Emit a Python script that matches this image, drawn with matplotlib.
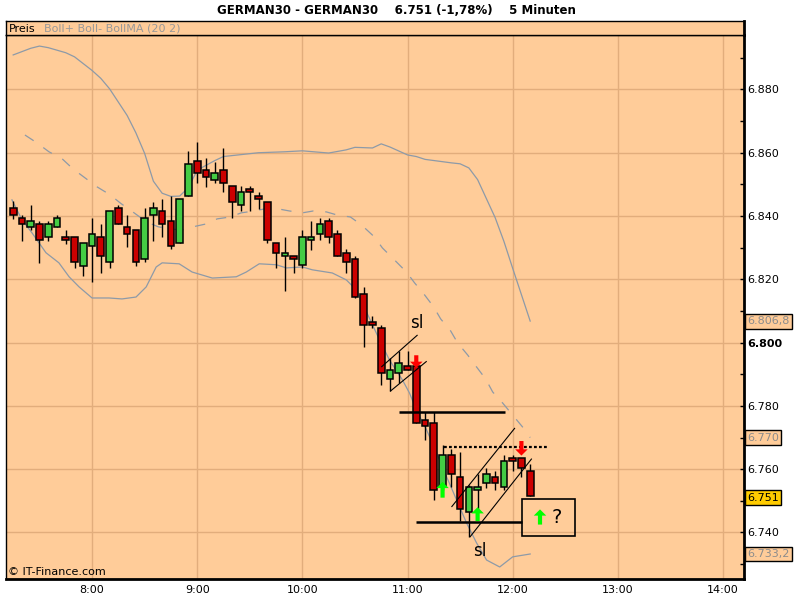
import numpy as np
import matplotlib
matplotlib.use("Agg")
import matplotlib.pyplot as plt
import matplotlib.transforms as mtransforms
from matplotlib.patches import Rectangle

# candles: 5 minute bars starting at 7:15 (minutes after midnight)
first_bar = 435
bar_step = 5
opens = [6842.5, 6839.3, 6836.5, 6837.4, 6833.3, 6836.5, 6833.3, 6833.3, 6824.3, 6830.5,
         6833.3, 6825.4, 6842.5, 6836.5, 6835.5, 6826.4, 6840.2, 6841.5, 6838.5, 6831.4,
         6846.3, 6857.3, 6854.5, 6851.3, 6854.5, 6849.4, 6843.4, 6848.5, 6846.3, 6844.4,
         6831.4, 6827.3, 6827.3, 6824.5, 6832.4, 6834.2, 6838.5, 6834.2, 6828.2, 6826.4,
         6815.4, 6806.4, 6804.5, 6788.4, 6790.3, 6792.5, 6792.7, 6775.5, 6774.5, 6754.5,
         6764.4, 6757.5, 6746.4, 6753.5, 6755.6, 6757.5, 6754.3, 6763.5, 6763.5, 6759.4]
highs = [6844.8, 6840.3, 6843.5, 6838.5, 6838.5, 6840.3, 6835.6, 6833.3, 6831.4, 6839.4,
         6837.4, 6841.5, 6843.4, 6840.3, 6835.5, 6842.5, 6844.4, 6845.3, 6846.3, 6845.3,
         6860.5, 6863.4, 6858.3, 6857.0, 6861.5, 6849.4, 6849.4, 6849.4, 6847.6, 6844.4,
         6831.4, 6833.3, 6827.3, 6835.6, 6838.5, 6839.4, 6839.4, 6835.6, 6829.5, 6827.3,
         6817.5, 6808.3, 6805.5, 6795.1, 6797.3, 6797.3, 6792.7, 6778.0, 6778.0, 6767.6,
         6766.3, 6765.4, 6755.1, 6758.4, 6760.3, 6759.4, 6764.4, 6764.4, 6763.5, 6761.6]
lows = [6839.2, 6832.2, 6835.6, 6825.3, 6832.2, 6836.4, 6831.3, 6823.5, 6821.2, 6819.3,
        6822.1, 6823.5, 6837.4, 6830.3, 6824.3, 6825.4, 6832.2, 6833.3, 6829.5, 6831.4,
        6846.3, 6850.4, 6849.3, 6850.4, 6847.5, 6839.3, 6841.5, 6841.5, 6842.3, 6831.4,
        6823.5, 6816.4, 6822.1, 6823.5, 6829.4, 6832.4, 6831.4, 6827.3, 6822.1, 6814.0,
        6798.5, 6804.5, 6786.5, 6784.8, 6787.2, 6791.3, 6774.5, 6769.3, 6750.3, 6753.5,
        6754.5, 6743.5, 6738.7, 6747.4, 6754.2, 6753.5, 6753.5, 6759.4, 6757.5, 6751.4]
closes = [6840.2, 6837.4, 6838.4, 6832.4, 6837.4, 6839.3, 6832.4, 6825.4, 6831.4, 6834.2,
          6827.3, 6841.5, 6837.4, 6834.2, 6825.4, 6839.3, 6842.5, 6837.4, 6830.5, 6845.3,
          6856.4, 6853.5, 6852.3, 6853.6, 6850.4, 6844.4, 6847.5, 6847.5, 6845.3, 6832.4,
          6828.2, 6828.2, 6826.4, 6833.3, 6833.3, 6837.4, 6833.3, 6827.3, 6825.4, 6814.3,
          6805.5, 6805.5, 6790.3, 6791.3, 6793.5, 6791.3, 6774.5, 6773.6, 6753.5, 6764.4,
          6758.4, 6747.4, 6754.3, 6754.3, 6758.4, 6755.6, 6762.5, 6762.5, 6760.3, 6751.4]

# Bollinger bands (20, 2)
upper_t = [435, 445, 450, 455, 465, 470, 480, 485, 490, 495, 500, 505, 510, 515, 520, 525,
           530, 535, 540, 545, 550, 555, 565, 575, 590, 600, 615, 625, 630, 640, 645, 650,
           660, 665, 670, 685, 690, 695, 700, 710, 715, 720, 730]
upper_v = [6890.9, 6893.0, 6893.7, 6893.2, 6891.6, 6890.3, 6886.0, 6883.5, 6880.2, 6876.0,
           6871.8, 6866.3, 6859.8, 6851.0, 6847.2, 6846.2, 6846.3, 6849.0, 6854.5, 6856.0,
           6857.5, 6858.8, 6859.4, 6860.0, 6860.3, 6860.6, 6859.9, 6860.9, 6861.7, 6861.5,
           6862.8, 6861.8, 6859.3, 6858.8, 6857.9, 6856.8, 6856.5, 6855.2, 6851.5, 6839.5,
           6832.0, 6823.5, 6806.8]
mid_t = [441.7, 448.6, 455.4, 462.9, 469.1, 476.6, 482.9, 490.3, 496.6, 504, 510.9, 517.7,
         524.6, 531.4, 537.7, 545.1, 551.4, 558.9, 565.1, 572.6, 578.9, 585.7, 592.6, 600,
         606.3, 613.7, 620, 627.4, 633.7, 641.1, 645.7, 652.6, 659.4, 664, 669.7, 674.9,
         678.9, 684.6, 688.6, 694.3, 699.4, 704.6, 708.6, 714.3, 720, 725.7, 730]
mid_v = [6865.6, 6863.1, 6860.3, 6858.1, 6854.9, 6851.8, 6849.2, 6846.7, 6843.9, 6841.0,
         6838.2, 6836.6, 6835.9, 6835.6, 6836.6, 6837.5, 6839.1, 6839.7, 6841.0, 6841.6,
         6842.3, 6842.3, 6841.6, 6841.0, 6841.6, 6841.3, 6840.3, 6839.7, 6837.2, 6833.4,
         6829.9, 6826.1, 6822.3, 6818.9, 6815.1, 6811.3, 6807.5, 6803.7, 6799.9, 6796.1,
         6792.3, 6788.5, 6784.4, 6780.9, 6777.1, 6773.3, 6770.0]
lower_t = [434.3, 440, 445.7, 453.7, 461.1, 466.9, 472.6, 480, 489.7, 497.1, 505.1, 510.9,
           516.6, 520, 529.7, 537.1, 548.6, 562.3, 568, 575.4, 585.1, 590.9, 600, 605.7,
           617.1, 625.1, 630.9, 632.6, 644, 649.7, 657.1, 661.1, 665.1, 670.9, 676.6, 682.3,
           688, 693.7, 699.4, 705.1, 712.6, 720, 730]
lower_v = [6845.1, 6838.8, 6834.7, 6828.4, 6825.2, 6820.8, 6817.6, 6814.1, 6814.1, 6813.8,
           6814.4, 6817.6, 6823.9, 6825.2, 6824.9, 6822.3, 6820.4, 6820.8, 6822.3, 6824.9,
           6824.6, 6823.6, 6823.9, 6823.0, 6822.0, 6819.8, 6816.6, 6814.4, 6800.9, 6794.5,
           6788.2, 6784.1, 6778.7, 6772.4, 6765.1, 6757.6, 6750.3, 6743.0, 6736.7, 6731.3,
           6729.1, 6732.3, 6733.2]

# hand drawn annotations (time in minutes, price)
channel_lines = [((645.3, 6792.4), (665.5, 6802.3)), ((650.3, 6784.7), (670.7, 6794.0)),
                 ((685.3, 6748.2), (721.1, 6772.9)), ((695.8, 6738.7), (730.7, 6763.2))]
solid_levels = [(6778.2, 655.4, 715.4), (6743.4, 665.0, 725.3)]
dotted_level = (6767.1, 680.6, 740.0)
green_arrows = [(680, 6751.0, 6756.0), (700, 6743.6, 6748.0), (735.6, 6742.5, 6747.3)]
red_arrows = [(665, 6796.0, 6792.0), (725, 6768.9, 6764.3)]
sl_labels = [(665.3, 6806.1), (701.1, 6734.0)]
question_box = (725.3, 755.8, 6738.9, 6750.5)

last_labels = [("6.806,8", 6806.8, "#FFCC99", "#8C8C8C"), ("6.770", 6770.0, "#FFCC99", "#8C8C8C"),
               ("6.751", 6751.0, "#FFCC00", "black"), ("6.733,2", 6733.2, "#FFCC99", "#8C8C8C")]
hour_ticks = [8, 9, 10, 11, 12, 13, 14]
price_ticks = [6740, 6760, 6780, 6800, 6820, 6840, 6860, 6880]

peach = "#FFCC99"
grid_c = "#E2AD7C"
band_c = "#8D9AA8"
plt.rcParams["font.family"] = "DejaVu Sans"
plt.rcParams["lines.scale_dashes"] = False

fig = plt.figure(figsize=(8, 6), dpi=100)
fig.patch.set_facecolor("white")
W, H = 800, 600
ax = fig.add_axes([6 / W, 1 - 579 / H, 738 / W, 544 / H])
ax.set_facecolor(peach)
ax.set_xlim(430.9, 852.0)
ax.set_ylim(6725.3, 6897.2)

times = np.array([first_bar + bar_step * i for i in range(len(opens))])
o = np.array(opens); c = np.array(closes)
cols = np.where(c >= o, "#44CC44", "#CC0000")

ax.plot(upper_t, upper_v, color=band_c, lw=0.9, zorder=1)
ax.plot(lower_t, lower_v, color=band_c, lw=0.9, zorder=1)
ax.plot(mid_t, mid_v, color=band_c, lw=0.9, zorder=1, dashes=(7.5, 8.5))

ax.vlines(times, lows, highs, color="black", lw=1.0, zorder=2)
ax.bar(times, np.abs(c - o), bottom=np.minimum(o, c), width=3.8, color=cols,
       edgecolor="black", linewidth=1.1, zorder=3)

for (p1, p2) in channel_lines:
    ax.plot([p1[0], p2[0]], [p1[1], p2[1]], color="black", lw=0.8, zorder=4)
for lvl, t0, t1 in solid_levels:
    ax.plot([t0, t1], [lvl, lvl], color="black", lw=1.8, zorder=4, solid_capstyle="butt")
ax.plot(dotted_level[1:], [dotted_level[0]] * 2, color="black", lw=1.6, zorder=4,
        dashes=(2.0, 1.6))

def block_arrow(x, y0, y1, color):
    ax.annotate("", xy=(x, y1), xytext=(x, y0), zorder=6,
                arrowprops=dict(arrowstyle="simple,head_length=4.5,head_width=9,tail_width=3",
                                mutation_scale=1, color=color, lw=0, shrinkA=0, shrinkB=0))

for x, y0, y1 in green_arrows:
    block_arrow(x, y0, y1, "#00FF00")
for x, y0, y1 in red_arrows:
    block_arrow(x, y0, y1, "#FF0000")

bx0, bx1, by0, by1 = question_box
ax.add_patch(Rectangle((bx0, by0), bx1 - bx0, by1 - by0, facecolor="none",
                       edgecolor="black", lw=1.2, zorder=5))
ax.text(bx0 + 0.66 * (bx1 - bx0), (by0 + by1) / 2, "?", fontsize=14, ha="center",
        va="center", zorder=6)
for tx, ty in sl_labels:
    ax.text(tx, ty, "sl", fontsize=12, ha="center", va="center", zorder=6)

# grid and axes
for h in hour_ticks:
    ax.axvline(h * 60, color=grid_c, lw=1.0, zorder=0)
for p in price_ticks:
    ax.axhline(p, color=grid_c, lw=1.0, zorder=0)

ax.set_xticks([h * 60 for h in hour_ticks])
ax.set_xticklabels([f"{h}:00" for h in hour_ticks])
ax.tick_params(axis="x", length=0, pad=4, labelsize=8)
ax.yaxis.tick_right()
ax.set_yticks(price_ticks)
ax.set_yticks(np.arange(6730, 6900, 10), minor=True)
ax.set_yticklabels([f"{p / 1000:.3f}" for p in price_ticks])
ax.tick_params(axis="y", which="both", direction="in", length=3, width=1, pad=2, labelsize=8)
for lab in ax.get_yticklabels():
    if lab.get_text() == "6.800":
        lab.set_fontweight("bold")

for side in ["left", "top"]:
    ax.spines[side].set_linewidth(1.0)
for side in ["right", "bottom"]:
    ax.spines[side].set_linewidth(2.0)

trans = mtransforms.blended_transform_factory(ax.transAxes, ax.transData)
for txt, val, fc, tc in last_labels:
    ax.text(1.004, val, txt, transform=trans, fontsize=8, color=tc, ha="left", va="center",
            clip_on=False, zorder=7,
            bbox=dict(boxstyle="square,pad=0.22", facecolor=fc, edgecolor="black", lw=1.0))

ax.text(0.003, 0.004, "© IT-Finance.com", transform=ax.transAxes, fontsize=8,
        ha="left", va="bottom")

# header strip
hx = fig.add_axes([6 / W, 1 - 35 / H, 738 / W, 14 / H])
hx.set_facecolor(peach)
hx.set_xticks([]); hx.set_yticks([])
for s in hx.spines.values():
    s.set_linewidth(1.0)
hx.spines["right"].set_linewidth(2.0)
hx.text(3 / 738, 0.45, "Preis", fontsize=8, va="center", ha="left", transform=hx.transAxes)
hx.text(38 / 738, 0.45, "Boll+ Boll- BollMA (20 2)", fontsize=8, color="#999999",
        va="center", ha="left", transform=hx.transAxes)

fig.text(0.496, 1 - 10 / H, "GERMAN30 - GERMAN30    6.751 (-1,78%)    5 Minuten",
         fontsize=8.5, fontweight="bold", ha="center", va="center")

fig.savefig("out.png", dpi=100, facecolor="white")
